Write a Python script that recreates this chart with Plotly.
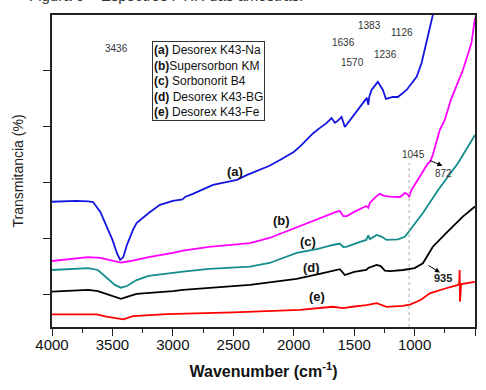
import plotly.graph_objects as go

# ---- data (wavenumber in cm-1, transmittance in arbitrary offset units) ----
wn_a = [4000, 3800, 3700, 3660, 3600, 3550, 3500, 3460, 3436, 3410, 3380, 3330, 3300, 3200, 3107, 3000,
        2920, 2900, 2834, 2668, 2470, 2390, 2200, 2114, 2000, 1949, 1839, 1783, 1729, 1687, 1659, 1636,
        1604, 1577, 1535, 1453, 1395, 1383, 1375, 1356, 1304, 1262, 1237, 1180, 1138, 1066, 983, 942,
        901, 860, 849, 820]
t_a = [33.2, 33.5, 33.3, 33.1, 29.6, 24.9, 19.6, 14.6, 12.5, 13.5, 17.8, 23.2, 25.6, 29.2, 32.1, 33.5,
       34.0, 34.9, 36.0, 39.2, 41.0, 42.7, 46.0, 48.1, 50.9, 52.8, 57.6, 59.5, 61.2, 63.0, 61.3, 62.0,
       63.4, 59.8, 62.3, 67.0, 70.2, 67.7, 70.5, 73.0, 75.9, 73.0, 69.8, 70.5, 70.5, 73.0, 77.7, 82.6,
       89.8, 97.2, 99.7, 108.6]

wn_b = [4000, 3850, 3700, 3600, 3500, 3430, 3350, 3200, 3000, 2916, 2700, 2362, 2200, 2031, 1900, 1800,
        1700, 1650, 1618, 1590, 1560, 1500, 1400, 1383, 1370, 1330, 1290, 1250, 1204, 1121, 1081, 1060,
        1045, 1026, 957, 888, 872, 849, 791, 750, 700, 600, 529, 500]
t_b = [12.1, 12.8, 13.5, 13.2, 12.1, 11.5, 12.1, 13.5, 15.0, 15.8, 17.1, 18.5, 20.3, 23.2, 25.3, 27.1,
       28.9, 29.6, 29.9, 28.1, 28.1, 29.6, 31.7, 31.0, 32.8, 34.6, 36.0, 35.3, 35.0, 34.9, 36.3, 36.0,
       34.9, 37.4, 42.1, 47.0, 47.4, 49.9, 58.8, 62.3, 69.5, 80.1, 89.8, 98.7]

wn_c = [4000, 3850, 3700, 3620, 3550, 3480, 3430, 3380, 3300, 3200, 2916, 2700, 2362, 2200, 1976, 1800,
        1676, 1620, 1590, 1560, 1450, 1400, 1383, 1370, 1314, 1270, 1231, 1138, 1080, 1038, 931, 805,
        640, 500]
t_c = [8.9, 9.3, 9.6, 8.9, 6.1, 3.6, 2.6, 3.2, 5.3, 6.8, 8.3, 9.3, 10.1, 11.4, 15.0, 16.4,
       17.8, 18.3, 17.1, 17.2, 18.9, 19.6, 21.2, 19.9, 21.4, 20.7, 19.6, 19.8, 20.7, 23.2, 29.2, 37.4,
       47.0, 57.0]

wn_d = [4000, 3850, 3700, 3620, 3500, 3430, 3380, 3300, 3000, 2916, 2362, 1976, 1758, 1618, 1577, 1500,
        1400, 1383, 1314, 1280, 1246, 1200, 1096, 1000, 931, 849, 739, 601, 500]
t_d = [1.2, 1.4, 1.8, 1.4, -0.4, -1.4, -0.7, 0.4, 1.4, 1.8, 3.6, 5.7, 7.8, 9.2, 7.1, 8.2,
       8.9, 9.6, 10.7, 10.3, 8.7, 8.5, 8.9, 9.6, 11.3, 17.2, 22.0, 27.9, 31.5]

wn_e = [4000, 3630, 3550, 3410, 3330, 3200, 3052, 2500, 1950, 1676, 1593, 1500, 1397, 1314, 1260, 1231,
        1100, 1038, 950, 874, 739, 640, 630, 627, 624, 621, 615, 500]
t_e = [-6.9, -6.9, -7.7, -8.7, -7.5, -7.1, -6.8, -6.2, -5.3, -4.2, -4.7, -4.1, -3.6, -2.9, -3.6, -4.2,
       -3.9, -3.4, -1.8, 0.6, 2.4, 3.6, 4.3, 8.9, -2.4, 3.9, 3.9, 4.7]

series = [
    ("(a) Desorex K43-Na", wn_a, t_a, "#1414E0"),
    ("(b) Supersorbon KM", wn_b, t_b, "#FF00FF"),
    ("(c) Sorbonorit B4", wn_c, t_c, "#138C8C"),
    ("(d) Desorex K43-BG", wn_d, t_d, "#000000"),
    ("(e) Desorex K43-Fe", wn_e, t_e, "#FF0000"),
]

FONT = "Liberation Sans, Arial, sans-serif"

fig = go.Figure()
for name, x, y, c in series:
    fig.add_trace(go.Scatter(x=x, y=y, mode="lines", name=name,
                             line=dict(color=c, width=1.8), showlegend=False))

ann = []
def txt(x, y, s, size=10, bold=False, color="#333333"):
    ann.append(dict(x=x, y=y, xref="x", yref="y", text=("<b>%s</b>" % s) if bold else s,
                    showarrow=False, font=dict(family=FONT, size=size, color=color)))

for x, y, s in [(3465, 87.6, "3436"), (1369, 95.9, "1383"), (1107, 93.3, "1126"),
                (1592, 89.8, "1636"), (1237, 85.5, "1236"), (1512, 82.7, "1570"),
                (1011, 49.9, "1045"), (762, 43.3, "872")]:
    txt(x, y, s)
txt(762, 5.9, "935", size=11, bold=True, color="#222222")

for x, y, s in [(2486, 43.8, "(a)"), (2100, 26.7, "(b)"), (1882, 19.0, "(c)"),
                (1851, 9.9, "(d)"), (1805, -0.6, "(e)")]:
    txt(x, y, s, size=13, bold=True, color="#111111")

# arrows
ann.append(dict(x=770, y=46.0, xref="x", yref="y", ax=-14, ay=-6, text="", showarrow=True,
                arrowhead=2, arrowsize=1, arrowwidth=1, arrowcolor="#000000"))
ann.append(dict(x=790, y=8.0, xref="x", yref="y", ax=-13, ay=-8, text="", showarrow=True,
                arrowhead=2, arrowsize=1, arrowwidth=1, arrowcolor="#000000"))

# legend box
legend_txt = ("<b>(a)</b> Desorex K43-Na<br><b>(b)</b>Supersorbon KM<br><b>(c)</b> Sorbonorit B4"
              "<br><b>(d)</b> Desorex K43-BG<br><b>(e)</b> Desorex K43-Fe")
ann.append(dict(x=0.236, y=0.918, xref="paper", yref="paper", xanchor="left", yanchor="top",
                text=legend_txt, align="left", showarrow=False, bordercolor="#333333",
                borderwidth=1, borderpad=1, bgcolor="white",
                font=dict(family=FONT, size=12, color="#111111")))

# partially visible caption at top
ann.append(dict(x=0.598, y=1.062, xref="paper", yref="paper", xanchor="right", yanchor="middle",
                text="Figura 6 – Espectros FTIR das amostras.", showarrow=False,
                font=dict(family=FONT, size=15, color="#333333")))

fig.add_shape(type="line", x0=1045, x1=1045, y0=-11.4, y1=47.0, xref="x", yref="y",
              line=dict(color="#AAAAAA", width=1, dash="dot"))

fig.update_layout(
    width=486, height=390, margin=dict(l=52, r=11, t=15, b=63, autoexpand=False),
    paper_bgcolor="white", plot_bgcolor="white",
    annotations=ann,
    font=dict(family=FONT, color="#111111"),
    xaxis=dict(range=[4000, 500], tickmode="array", tickvals=[4000, 3500, 3000, 2500, 2000, 1500, 1000, 500],
               ticks="outside", ticklen=7, tickwidth=1.2, tickcolor="#222222", automargin=False,
               ticklabelstandoff=-4,
               minor=dict(tickvals=[3750, 3250, 2750, 2250, 1750, 1250, 750], ticks="outside",
                          ticklen=4, tickcolor="#222222", showgrid=False),
               showline=True, linecolor="#222222", linewidth=1.5, mirror=True, showgrid=False,
               zeroline=False, tickfont=dict(size=15, family=FONT, color="#111111"),
               title=dict(text="<b>Wavenumber (cm<sup>-1</sup>)</b>",
                          font=dict(size=16, family=FONT, color="#111111"), standoff=14)),
    yaxis=dict(range=[-11.4, 99.7], tickmode="array", tickvals=[0, 20, 40, 60, 80],
               showticklabels=False, ticks="outside", ticklen=7, tickwidth=1.2, tickcolor="#222222",
               showline=True, linecolor="#222222", linewidth=1.5, mirror=True, showgrid=False,
               zeroline=False, automargin=False,
               title=dict(text="Transmitancia (%)", font=dict(size=14, family=FONT, color="#222222"),
                          standoff=16)),
)

fig.write_html("out.html")
